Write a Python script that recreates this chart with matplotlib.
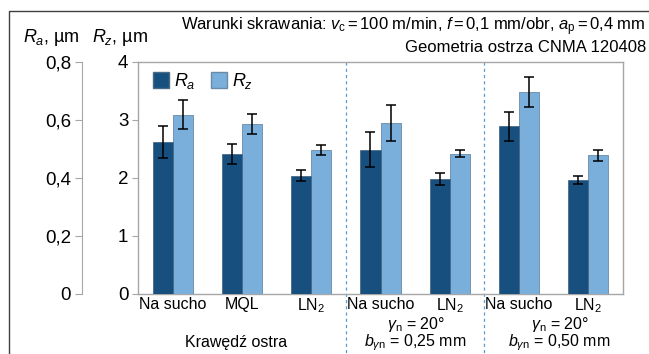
import numpy as np
import matplotlib
matplotlib.use('Agg')
import matplotlib.pyplot as plt
from matplotlib.lines import Line2D
from matplotlib.ticker import FuncFormatter
import matplotlib.transforms as mtransforms

plt.rcParams['font.family'] = ['Liberation Sans', 'DejaVu Sans']
plt.rcParams['mathtext.fontset'] = 'custom'
plt.rcParams['mathtext.rm'] = 'Liberation Sans'
plt.rcParams['mathtext.it'] = 'Liberation Sans:italic'
plt.rcParams['mathtext.bf'] = 'Liberation Sans:bold'

# data
categories = ['Na sucho', 'MQL', r'LN$_\mathregular{2}$',
              'Na sucho', r'LN$_\mathregular{2}$',
              'Na sucho', r'LN$_\mathregular{2}$']
ra_mean = [0.524, 0.483, 0.408, 0.498, 0.397, 0.578, 0.392]
ra_err = [0.056, 0.035, 0.018, 0.060, 0.021, 0.050, 0.014]
rz_mean = [3.09, 2.93, 2.48, 2.95, 2.42, 3.48, 2.39]
rz_err = [0.25, 0.17, 0.09, 0.31, 0.06, 0.26, 0.10]
separators = [2.5, 4.5]

dark = '#17507f'
light = '#7aafdc'
grid_gray = '#a6a6a6'

W, H = 649, 354
fig = plt.figure(figsize=(W / 100, H / 100), dpi=100)

# main (Rz) axes in pixel coords
left, bottom, right, top = 138, 294, 623, 62
ax = fig.add_axes([left / W, (H - bottom) / H, (right - left) / W, (bottom - top) / H])
ax_ra = ax.twinx()

x = np.arange(len(categories))
bw = 0.29
ax_ra.bar(x - bw / 2, ra_mean, bw, color=dark, edgecolor='#4a6a85', linewidth=0.6,
          yerr=ra_err, error_kw=dict(ecolor='black', elinewidth=1.1, capsize=3.5, capthick=1.1),
          zorder=3)
ax.bar(x + bw / 2, rz_mean, bw, color=light, edgecolor='#6a8aa5', linewidth=0.6,
       yerr=rz_err, error_kw=dict(ecolor='black', elinewidth=1.1, capsize=3.5, capthick=1.1),
       zorder=3)

ax.set_xlim(-0.5, len(categories) - 0.5)
ax.set_ylim(0, 4)
ax_ra.set_ylim(0, 0.8)
ax.set_yticks([0, 1, 2, 3, 4])
ax_ra.set_yticks([0, 0.2, 0.4, 0.6, 0.8])
ax_ra.yaxis.set_major_formatter(FuncFormatter(lambda v, p: ('%g' % round(v, 1)).replace('.', ',')))

for s in ax.spines.values():
    s.set_color(grid_gray)
    s.set_linewidth(1.0)
ax.tick_params(axis='y', direction='out', length=4, color=grid_gray, labelsize=13.5, pad=3)
ax.tick_params(axis='x', length=0, labelsize=11.5, pad=2)
ax.set_xticks(x)
ax.set_xticklabels(categories)

# Ra axis on the left, offset outward
ax_ra.yaxis.tick_left()
ax_ra.spines['right'].set_visible(False)
ax_ra.spines['top'].set_visible(False)
ax_ra.spines['bottom'].set_visible(False)
ax_ra.spines['left'].set_position(('axes', -(left - 82) / (right - left)))
ax_ra.spines['left'].set_color(grid_gray)
ax_ra.tick_params(axis='y', direction='out', length=5, color=grid_gray, labelsize=13.5, pad=3)

# dashed separators
trans = mtransforms.blended_transform_factory(ax.transData, ax.transAxes)
for sx in separators:
    ax.plot([sx, sx], [1, -(H - bottom) / (bottom - top)], transform=trans,
            color='#5b9bd5', linestyle=(0, (2.5, 2.5)), linewidth=0.9, clip_on=False)

# legend
handles = [Line2D([], [], marker='s', linestyle='none', markersize=11,
                  markerfacecolor=dark, markeredgecolor='#4a6a85', label='$R_a$'),
           Line2D([], [], marker='s', linestyle='none', markersize=11,
                  markerfacecolor=light, markeredgecolor='#6a8aa5', label='$R_z$')]
ax.legend(handles=handles, loc='upper left', ncol=2, frameon=False, fontsize=13,
          handlelength=0.8, handletextpad=0.3, columnspacing=0.9,
          bbox_to_anchor=(0.0, 1.03), borderaxespad=0.5)

def px(xp, yp):
    return xp / W, 1 - yp / H

# texts
fig.text(*px(23, 38), r'$R_a$, µm', fontsize=13, ha='left', va='center')
fig.text(*px(92, 38), r'$R_z$, µm', fontsize=13, ha='left', va='center')
fig.text(*px(646, 27), r'Warunki skrawania: $v_\mathrm{c}$$\,$=$\,$100 m/min, $f$$\,$=$\,$0,1 mm/obr, '
         r'$a_\mathrm{p}$$\,$=$\,$0,4 mm', fontsize=12, ha='right', va='center')
fig.text(*px(646, 47), 'Geometria ostrza CNMA 120408', fontsize=12, ha='right', va='center')

fig.text(*px(236, 342), 'Krawędź ostra', fontsize=11.5, ha='center', va='center')
fig.text(*px(416, 324), r'$\gamma_\mathrm{n}$ = 20°', fontsize=11.5, ha='center', va='center')
fig.text(*px(415, 343), r'$b_{\gamma\mathrm{n}}$ = 0,25 mm', fontsize=11.5, ha='center', va='center')
fig.text(*px(560, 324), r'$\gamma_\mathrm{n}$ = 20°', fontsize=11.5, ha='center', va='center')
fig.text(*px(559, 343), r'$b_{\gamma\mathrm{n}}$ = 0,50 mm', fontsize=11.5, ha='center', va='center')

# outer frame (left and top)
fig.add_artist(Line2D([9 / W, 9 / W, 648 / W], [0, 1 - 11 / H, 1 - 11 / H],
                      transform=fig.transFigure, color='#404040', linewidth=1.0))

fig.savefig('out.png', dpi=100)
